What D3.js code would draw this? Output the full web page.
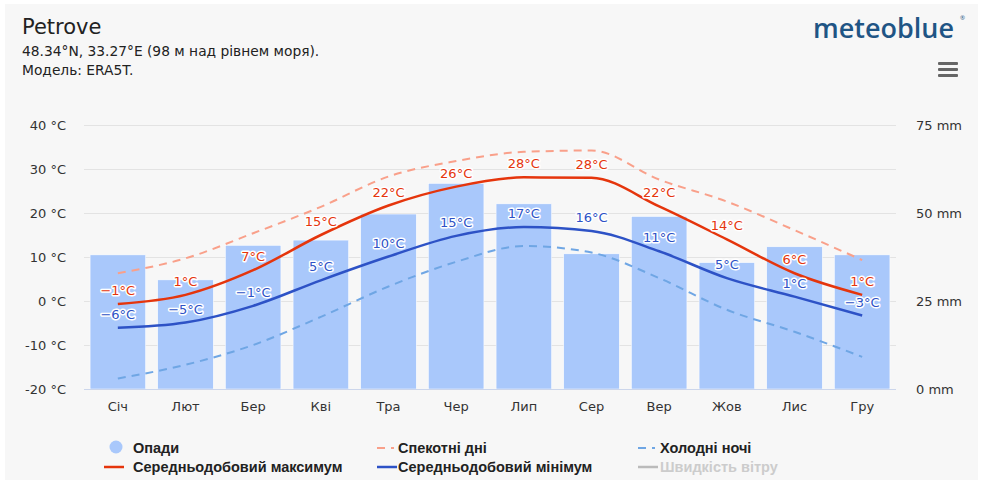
<!DOCTYPE html>
<html>
<head>
<meta charset="utf-8">
<script src="https://cdn.jsdelivr.net/npm/d3@7"></script>
<style>
  html, body { margin: 0; padding: 0; background: #ffffff; }
  svg { display: block; }
</style>
</head>
<body>
<svg id="chart" width="981" height="482"></svg>
<script>
// ---- data ----
const months = ["Січ","Лют","Бер","Кві","Тра","Чер","Лип","Сер","Вер","Жов","Лис","Гру"];
const precipitation = [38.1, 31.0, 40.8, 42.3, 49.7, 58.4, 52.6, 38.4, 49.0, 35.9, 40.4, 38.1];
const meanMax = [-0.7, 1.4, 7.0, 15.0, 21.7, 26.0, 28.1, 28.0, 21.5, 14.0, 6.3, 1.4];
const meanMin = [-6.1, -4.9, -1.1, 4.7, 10.1, 14.8, 16.8, 15.9, 11.3, 5.2, 1.0, -3.3];
const hotDays = [6.3, 9.7, 15.4, 21.4, 28.3, 31.8, 33.9, 34.2, 27.6, 22.6, 16.1, 9.3];
const coldNights = [-17.6, -14.5, -10.0, -3.6, 3.3, 8.9, 12.5, 11.0, 5.2, -2.0, -7.0, -12.7];
const tempTicks = [-20, -10, 0, 10, 20, 30, 40];
const precipTicks = [0, 25, 50, 75];
const legendItems = [
  {name: "Опади", type: "circle", color: "#a9c8fb", col: 0, row: 0},
  {name: "Спекотні дні", type: "dash", color: "#f9a08a", col: 1, row: 0},
  {name: "Холодні ночі", type: "dash", color: "#6fa6e4", col: 2, row: 0},
  {name: "Середньодобовий максимум", type: "line", color: "#e5350c", col: 0, row: 1},
  {name: "Середньодобовий мінімум", type: "line", color: "#2d52c6", col: 1, row: 1},
  {name: "Швидкість вітру", type: "line", color: "#bbbbbb", col: 2, row: 1, disabled: true}
];

// ---- layout ----
const svg = d3.select("#chart");
const plotL = 84, plotR = 896, plotT = 125, plotB = 389;
const font = "'DejaVu Sans', Verdana, sans-serif";

svg.append("rect").attr("x", 5).attr("y", 4).attr("width", 973).attr("height", 476).attr("fill", "#f7f7f7");

// header
svg.append("text").attr("x", 22).attr("y", 34).attr("font-family", font).attr("font-size", 21)
  .attr("fill", "#222").text("Petrove");
svg.append("text").attr("x", 22).attr("y", 56).attr("font-family", font).attr("font-size", 13.8)
  .attr("fill", "#222").text("48.34°N, 33.27°E (98 м над рівнем моря).");
svg.append("text").attr("x", 22).attr("y", 75).attr("font-family", font).attr("font-size", 13.8)
  .attr("fill", "#222").text("Модель: ERA5T.");

// logo
const logo = svg.append("text").attr("x", 813).attr("y", 38).attr("font-family", "'Open Sans', sans-serif")
  .attr("font-size", 29).attr("font-weight", 600).attr("fill", "#1f5585").text("meteoblue");
const natural = logo.node().getComputedTextLength();
if (natural > 0) logo.attr("font-size", 29 * 141 / natural);
svg.append("text").attr("x", 960).attr("y", 20).attr("font-family", "'Open Sans', sans-serif")
  .attr("font-size", 6).attr("fill", "#1f5585").text("®");
// menu icon
[0, 1, 2].forEach(i => {
  svg.append("rect").attr("x", 938).attr("y", 62 + i * 6).attr("width", 20).attr("height", 3)
    .attr("rx", 1).attr("fill", "#666");
});

// scales
const x = d3.scaleBand().domain(months).range([plotL, plotR]).paddingInner(0.18).paddingOuter(0.09);
const yT = d3.scaleLinear().domain([-20, 40]).range([plotB, plotT]);
const yP = d3.scaleLinear().domain([0, 75]).range([plotB, plotT]);
const cx = m => x(m) + x.bandwidth() / 2;

// grid
svg.append("g").selectAll("line").data(tempTicks.filter(t => t !== -20)).join("line")
  .attr("x1", plotL).attr("x2", plotR).attr("y1", d => yT(d)).attr("y2", d => yT(d))
  .attr("stroke", "#e3e3e3").attr("stroke-width", 1).attr("shape-rendering", "crispEdges");

// bars
svg.append("g").selectAll("rect").data(precipitation).join("rect")
  .attr("x", (d, i) => x(months[i])).attr("width", x.bandwidth())
  .attr("y", d => yP(d)).attr("height", d => plotB - yP(d))
  .attr("fill", "#a9c8fb").attr("stroke", "#ffffff").attr("stroke-width", 0.5);

// bottom axis line
svg.append("line").attr("x1", plotL).attr("x2", plotR).attr("y1", plotB + 0.5).attr("y2", plotB + 0.5)
  .attr("stroke", "#ccd6eb").attr("stroke-width", 1);

// left axis
const leftAxis = svg.append("g").attr("transform", `translate(${plotL - 18},0)`)
  .call(d3.axisLeft(yT).tickValues(tempTicks).tickSize(0).tickPadding(0).tickFormat(d => d + " °C"));
leftAxis.select(".domain").remove();
leftAxis.selectAll("text").attr("font-family", font).attr("font-size", 13).attr("fill", "#333");

// right axis
const rightAxis = svg.append("g").attr("transform", `translate(${plotR + 20},0)`)
  .call(d3.axisRight(yP).tickValues(precipTicks).tickSize(0).tickPadding(0).tickFormat(d => d + " mm"));
rightAxis.select(".domain").remove();
rightAxis.selectAll("text").attr("font-family", font).attr("font-size", 13).attr("fill", "#333");

// bottom axis
const bottomAxis = svg.append("g").attr("transform", `translate(0,${plotB + 13})`)
  .call(d3.axisBottom(x).tickSize(0).tickPadding(0));
bottomAxis.select(".domain").remove();
bottomAxis.selectAll("text").attr("font-family", font).attr("font-size", 13).attr("fill", "#333")
  .attr("dy", "0.71em");

// lines
const lineGen = d3.line().x((d, i) => cx(months[i])).y(d => yT(d)).curve(d3.curveMonotoneX);
function drawLine(data, color, width, dash) {
  const p = svg.append("path").datum(data).attr("d", lineGen).attr("fill", "none")
    .attr("stroke", color).attr("stroke-width", width).attr("stroke-linejoin", "round");
  if (dash) p.attr("stroke-dasharray", dash);
}
drawLine(hotDays, "#f9a08a", 2, "8,6");
drawLine(coldNights, "#6fa6e4", 2, "8,6");
drawLine(meanMax, "#e5350c", 2.5, null);
drawLine(meanMin, "#2d52c6", 2.5, null);

// data labels
const fmt = v => { const r = Math.round(v); return (r < 0 ? "−" + Math.abs(r) : r) + "°C"; };
function drawLabels(data, color) {
  const g = svg.append("g");
  g.selectAll("text").data(data).join("text")
    .attr("x", (d, i) => cx(months[i])).attr("y", d => yT(d) - 9)
    .attr("text-anchor", "middle").attr("font-family", font).attr("font-size", 13)
    .attr("fill", color).attr("stroke", "#ffffff").attr("stroke-width", 3)
    .attr("stroke-linejoin", "round").attr("paint-order", "stroke")
    .text(d => fmt(d));
}
drawLabels(meanMax, "#e5350c");
drawLabels(meanMin, "#2d52c6");

// legend
const colX = [104, 377, 638];
const rowY = [448, 467];
const textX = [133, 398, 660];
const lg = svg.append("g");
legendItems.forEach(it => {
  const sx = colX[it.col], y = rowY[it.row];
  if (it.type === "circle") {
    lg.append("circle").attr("cx", 116).attr("cy", y - 1).attr("r", 6.5).attr("fill", it.color);
  } else if (it.type === "dash") {
    lg.append("line").attr("x1", sx).attr("x2", sx + 17).attr("y1", y).attr("y2", y)
      .attr("stroke", it.color).attr("stroke-width", 2).attr("stroke-dasharray", "8,6");
  } else {
    lg.append("line").attr("x1", sx).attr("x2", sx + 20).attr("y1", y).attr("y2", y)
      .attr("stroke", it.color).attr("stroke-width", 2.5);
  }
  lg.append("text").attr("x", textX[it.col]).attr("y", y + 5)
    .attr("font-family", "'Liberation Sans', Arial, sans-serif").attr("font-size", 14.5)
    .attr("font-weight", "bold").attr("fill", it.disabled ? "#cccccc" : "#222")
    .text(it.name);
});
</script>
</body>
</html>
